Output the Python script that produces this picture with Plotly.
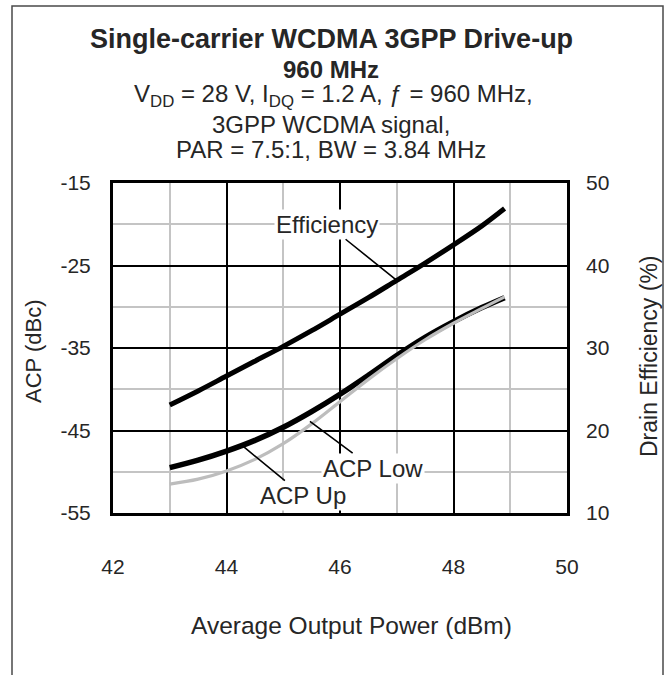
import plotly.graph_objects as go

# ---- data ----
power = [43, 43.5, 44, 44.5, 45, 45.5, 46, 46.5, 47, 47.5, 48, 48.5, 48.9]
efficiency = [23.1, 24.8, 26.6, 28.4, 30.2, 32.1, 34.1, 36.1, 38.2, 40.3, 42.5, 44.8, 46.9]
acp_up = [-49.5, -48.6, -47.5, -46.2, -44.6, -42.7, -40.6, -38.3, -35.9, -33.7, -31.8, -30.1, -28.9]
acp_low = [-51.5, -50.9, -49.9, -48.5, -46.6, -44.2, -41.5, -38.8, -36.3, -34.0, -32.0, -30.2, -28.8]

x_ticks = [42, 44, 46, 48, 50]
x_tick_text = ["42", "44", "46", "48", "50"]
acp_ticks = [-55, -45, -35, -25, -15]
acp_tick_text = ["-55", "-45", "-35", "-25", "-15"]
eff_ticks = [10, 20, 30, 40, 50]
eff_tick_text = ["10", "20", "30", "40", "50"]

FONT = "Liberation Sans, Arial, sans-serif"
TXT = "#262626"

# plot area in pixels
L, R, T, B = 113, 567, 183, 513
W, H = 669, 675


def px_x(px):
    return (px - L) / (R - L)


def px_y(py):
    return (B - py) / (B - T)


fig = go.Figure()
fig.add_trace(go.Scatter(x=power, y=acp_up, mode="lines", line=dict(color="black", width=5.5, shape="spline"),
                         name="ACP Up", showlegend=False))
fig.add_trace(go.Scatter(x=power, y=acp_low, mode="lines", line=dict(color="#bdbdbd", width=3.2, shape="spline"),
                         name="ACP Low", showlegend=False))
fig.add_trace(go.Scatter(x=power, y=efficiency, mode="lines", yaxis="y2",
                         line=dict(color="black", width=5, shape="spline"),
                         name="Efficiency", showlegend=False))

fig.update_layout(
    width=W, height=H,
    margin=dict(l=L, r=W - R, t=T, b=H - B),
    paper_bgcolor="white", plot_bgcolor="white",
    font=dict(family=FONT, color=TXT, size=21),
    xaxis=dict(range=[42, 50], tickvals=x_ticks, ticktext=x_tick_text, showgrid=True, gridcolor="black",
               gridwidth=2,
               minor=dict(dtick=1, showgrid=True, gridcolor="#c4c4c4", gridwidth=1.5),
               showline=True, linecolor="black", linewidth=3, mirror=True, ticks="",
               ticklabelstandoff=33, zeroline=False, tickfont=dict(size=21)),
    yaxis=dict(range=[-55, -15], tickvals=acp_ticks, ticktext=acp_tick_text, showgrid=True, gridcolor="black",
               gridwidth=2,
               minor=dict(tick0=-55, dtick=5, showgrid=True, gridcolor="#c4c4c4", gridwidth=1.5),
               showline=True, linecolor="black", linewidth=3, mirror=True, ticks="",
               ticklabelstandoff=15, zeroline=False, tickfont=dict(size=21)),
    yaxis2=dict(range=[10, 50], tickvals=eff_ticks, ticktext=eff_tick_text, overlaying="y", side="right",
                showgrid=False, showline=False, ticks="", ticklabelstandoff=18, zeroline=False,
                tickfont=dict(size=21)),
)

ann = []
# titles
ann.append(dict(text="<b>Single-carrier WCDMA 3GPP Drive-up</b>", x=px_x(331), y=px_y(39), font=dict(size=27)))
ann.append(dict(text="<b>960 MHz</b>", x=px_x(331), y=px_y(69), font=dict(size=24)))
ann.append(dict(text="V<sub>DD</sub> = 28 V, I<sub>DQ</sub> = 1.2 A, ƒ = 960 MHz,", x=px_x(333), y=px_y(95),
                font=dict(size=24)))
ann.append(dict(text="3GPP WCDMA signal,", x=px_x(331), y=px_y(124), font=dict(size=24)))
ann.append(dict(text="PAR = 7.5:1, BW = 3.84 MHz", x=px_x(331), y=px_y(149), font=dict(size=24)))
# axis titles
ann.append(dict(text="Average Output Power (dBm)", x=px_x(351), y=px_y(625), font=dict(size=24.5)))
ann.append(dict(text="ACP (dBc)", x=px_x(33), y=px_y(351), textangle=-90, font=dict(size=22)))
ann.append(dict(text="Drain Efficiency (%)", x=px_x(649), y=px_y(356), textangle=-90, font=dict(size=23)))
for a in ann:
    a.update(xref="paper", yref="paper", showarrow=False, xanchor="center", yanchor="middle")

# curve labels with leader lines
labels = [
    dict(text="Efficiency", x=47.0, y=38.2, ax=45.77, ay=45.0, xref="x", yref="y2", axref="x", ayref="y2"),
    dict(text="ACP Low", x=45.47, y=-43.9, ax=46.58, ay=-49.55, xref="x", yref="y", axref="x", ayref="y"),
    dict(text="ACP Up", x=44.29, y=-46.9, ax=45.35, ay=-52.9, xref="x", yref="y", axref="x", ayref="y"),
]
for a in labels:
    a.update(showarrow=True, arrowhead=0, arrowwidth=1.6, arrowcolor="black", bgcolor="white",
             borderpad=1, font=dict(size=24, color=TXT), standoff=0, startstandoff=0)
    ann.append(a)

fig.update_layout(annotations=ann)

# outer frame
fig.add_shape(type="rect", xref="paper", yref="paper", x0=px_x(12), x1=px_x(663), y0=px_y(690), y1=px_y(6),
              line=dict(color="#4a4a4a", width=1.5), fillcolor="rgba(0,0,0,0)", layer="above")

fig.write_html("out.html", config={"displayModeBar": False},
               post_script="document.body.style.margin='0px';document.body.style.padding='0px';"
                           "document.documentElement.style.overflow='hidden';")
